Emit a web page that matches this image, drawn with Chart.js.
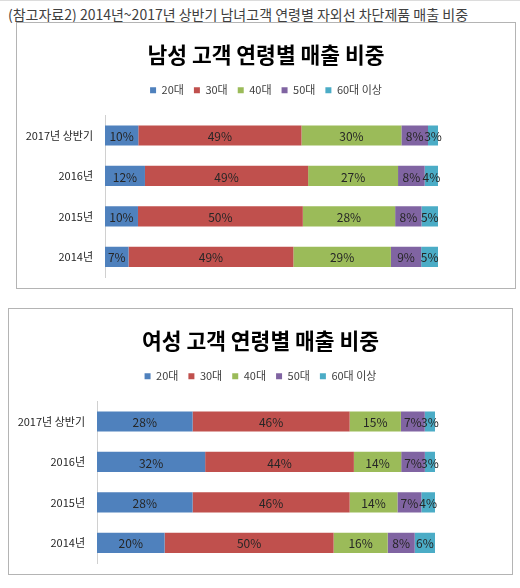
<!DOCTYPE html>
<html><head><meta charset="utf-8">
<script src="https://cdn.jsdelivr.net/npm/chart.js@4.4.1/dist/chart.umd.min.js"></script>
<style>
html,body{margin:0;padding:0;background:#fff;width:520px;height:588px;overflow:hidden;font-family:"Noto Sans CJK KR",sans-serif;}
#topline{position:absolute;left:0;top:0;width:520px;height:1px;background:#dcdcdc;}
#hdr{position:absolute;left:8px;top:4px;font-size:14px;color:#404040;white-space:nowrap;line-height:20px;}
.box{position:absolute;border:1px solid #b4b4b4;box-sizing:border-box;background:#fff;}
.box canvas{display:block;}
</style></head><body>
<div id="topline"></div>
<div id="hdr">(참고자료2) 2014년~2017년 상반기 남녀고객 연령별 자외선 차단제품 매출 비중</div>
<div class="box" id="b1" style="left:16px;top:22px;width:500px;height:267px;"><canvas id="c1"></canvas></div>
<div class="box" id="b2" style="left:8px;top:308px;width:505px;height:267px;"><canvas id="c2"></canvas></div>
<script>
const categories = ["2017년 상반기", "2016년", "2015년", "2014년"];
const seriesNames = ["20대", "30대", "40대", "50대", "60대 이상"];
const colors = ["#4F81BD", "#C0504D", "#9BBB59", "#8064A2", "#4BACC6"];
// male: per series, values for [2017H1, 2016, 2015, 2014]
const male20 = [10, 12, 10, 7];
const male30 = [49, 49, 50, 49];
const male40 = [30, 27, 28, 29];
const male50 = [8, 8, 8, 9];
const male60 = [3, 4, 5, 5];
// female
const female20 = [28, 32, 28, 20];
const female30 = [46, 44, 46, 50];
const female40 = [15, 14, 14, 16];
const female50 = [7, 7, 7, 8];
const female60 = [3, 3, 4, 6];

const FONT = '"Noto Sans CJK KR", sans-serif';

const labelPlugin = {
  id: 'barLabels',
  afterDatasetsDraw(chart) {
    const ctx = chart.ctx;
    ctx.save();
    ctx.font = '12px ' + FONT;
    ctx.fillStyle = '#262626';
    ctx.textAlign = 'center';
    ctx.textBaseline = 'middle';
    chart.data.datasets.forEach((ds, i) => {
      const meta = chart.getDatasetMeta(i);
      meta.data.forEach((el, j) => {
        const p = el.getCenterPoint();
        ctx.fillText(ds.raw[j] + '%', p.x, p.y + 1);
      });
    });
    ctx.restore();
  }
};

const legendGap = {
  id: 'legendGap',
  beforeInit(chart) {
    const fit = chart.legend.fit;
    chart.legend.fit = function () { fit.call(this); this.height += 9.5; };
  }
};

function makeChart(id, title, series) {
  const canvas = document.getElementById(id);
  const sums = categories.map((_, j) => series.reduce((s, a) => s + a[j], 0));
  const datasets = series.map((arr, i) => ({
    label: seriesNames[i],
    raw: arr,
    data: arr.map((v, j) => v / sums[j] * 100),
    backgroundColor: colors[i],
    borderWidth: 0,
    categoryPercentage: 1,
    barPercentage: 0.5
  }));
  return new Chart(canvas, {
    type: 'bar',
    data: { labels: categories, datasets },
    options: {
      indexAxis: 'y',
      responsive: true,
      maintainAspectRatio: false,
      animation: false,
      layout: { padding: { left: 0, right: 0, top: 0, bottom: 11 } },
      plugins: {
        title: { display: true, text: title, color: '#000', font: { family: FONT, size: 21.5, weight: 'bold' }, padding: { top: 19, bottom: 7 } },
        legend: { position: 'top', labels: { boxWidth: 6, boxHeight: 6, padding: 10, color: '#404040', font: { family: FONT, size: 11 } } },
        tooltip: { enabled: false }
      },
      scales: {
        x: { stacked: true, min: 0, max: 100, display: false },
        y: {
          stacked: true,
          afterFit(s) { s.width = 88; s.paddingTop = 0; s.paddingBottom = 0; },
          grid: { display: false, drawTicks: false },
          border: { display: true, color: '#d0d0d0', width: 1 },
          ticks: { padding: 12, color: '#262626', font: { family: FONT, size: 11 } }
        },
        spacer: {
          type: 'linear',
          position: 'right',
          display: true,
          afterFit(s) { s.width = 77; s.paddingTop = 0; s.paddingBottom = 0; },
          grid: { display: false, drawTicks: false },
          border: { display: false },
          ticks: { display: false }
        }
      }
    },
    plugins: [labelPlugin, legendGap]
  });
}

makeChart('c1', '남성 고객 연령별 매출 비중', [male20, male30, male40, male50, male60]);
makeChart('c2', '여성 고객 연령별 매출 비중', [female20, female30, female40, female50, female60]);
</script>
</body></html>
